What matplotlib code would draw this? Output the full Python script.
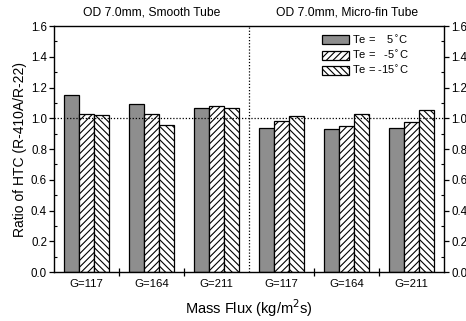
import numpy as np
import matplotlib
matplotlib.use('Agg')
import matplotlib.pyplot as plt

plt.rcParams['font.family'] = ['Liberation Sans', 'DejaVu Sans']
plt.rcParams['hatch.linewidth'] = 0.8

# 데이터 (smooth tube 3개 + micro-fin tube 3개)
groups = ['G=117', 'G=164', 'G=211', 'G=117', 'G=164', 'G=211']
te_5 = [1.15, 1.09, 1.07, 0.935, 0.93, 0.94]
te_m5 = [1.03, 1.025, 1.08, 0.985, 0.95, 0.975]
te_m15 = [1.02, 0.955, 1.065, 1.015, 1.03, 1.055]
series_labels = ['Te =    5$^{\\circ}$C', 'Te =   -5$^{\\circ}$C', 'Te = -15$^{\\circ}$C']
panel_titles = ['OD 7.0mm, Smooth Tube', 'OD 7.0mm, Micro-fin Tube']

fig = plt.figure(figsize=(4.66, 3.21), dpi=100)
ax = fig.add_axes([0.116, 0.152, 0.837, 0.767])

x = np.arange(len(groups)) + 0.5
w = 0.23
ax.bar(x - w, te_5, w, color='#8e8e8e', edgecolor='black', linewidth=0.9, label=series_labels[0])
ax.bar(x, te_m5, w, color='white', edgecolor='black', hatch='/////', linewidth=0.9, label=series_labels[1])
ax.bar(x + w, te_m15, w, color='white', edgecolor='black', hatch='\\\\\\\\\\', linewidth=0.9, label=series_labels[2])

ax.axhline(1.0, color='black', linestyle=(0, (1, 1.5)), linewidth=0.9)
ax.axvline(3.0, color='black', linestyle=(0, (1, 1.5)), linewidth=0.9)

ax.set_xlim(0, 6)
ax.set_ylim(0, 1.6)
ax.set_xticks(x)
ax.set_xticklabels(groups, fontsize=8.2)
ax.set_xticks([1, 2, 4, 5], minor=True)
ax.tick_params(axis='x', which='major', length=0, pad=5)
ax.tick_params(axis='x', which='minor', direction='inout', length=6, width=0.9)
ax.set_yticks(np.arange(0, 1.61, 0.2))
ax.set_yticks(np.arange(0, 1.61, 0.1), minor=True)
ax.tick_params(axis='y', which='major', direction='out', length=3.5, width=0.9, pad=1.5,
               labelsize=8.3, right=True, labelright=True)
ax.tick_params(axis='y', which='minor', direction='in', length=2.5, width=0.8, right=True)
ax.yaxis.set_major_formatter(matplotlib.ticker.FormatStrFormatter('%.1f'))
for s in ax.spines.values():
    s.set_linewidth(1.0)

ax.set_ylabel('Ratio of HTC (R-410A/R-22)', fontsize=10, labelpad=3)
ax.set_xlabel('Mass Flux (kg/m$^2$s)', fontsize=10.5, labelpad=6)

ax.text(1.5, 1.65, panel_titles[0], ha='center', va='bottom', fontsize=8.7)
ax.text(4.5, 1.65, panel_titles[1], ha='center', va='bottom', fontsize=8.7)

ax.legend(loc='upper right', bbox_to_anchor=(0.935, 1.01), frameon=False, fontsize=8,
          handlelength=2.4, handleheight=0.9, handletextpad=0.3, labelspacing=0.3)

fig.savefig('out.png', dpi=100)
